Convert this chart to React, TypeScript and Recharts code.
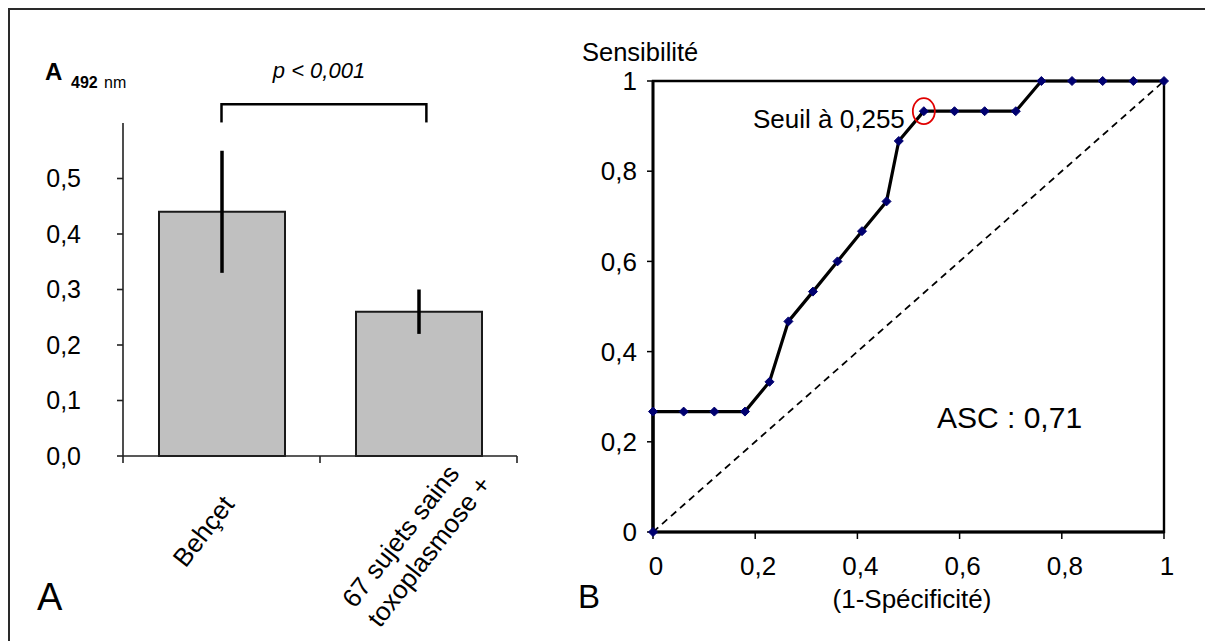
import React from 'react';
import {
  BarChart,
  Bar,
  XAxis,
  YAxis,
  ErrorBar,
  ReferenceLine,
  LineChart,
  Line,
  ReferenceArea,
  ReferenceDot,
} from 'recharts';

// ---------- data: panel A ----------
const groups = ['Behçet', '67 sujets sains\ntoxoplasmose +'];
const absorbance = [0.44, 0.26];
const absorbanceErr = [0.11, 0.04];
const absorbanceTicks = [0, 0.1, 0.2, 0.3, 0.4, 0.5];
const groupAxisTicks = [0, 0.5, 1, 1.5, 2];
const pValueLabel = 'p < 0,001';

// ---------- data: panel B (ROC) ----------
const fpr = [0, 0, 0.06, 0.12, 0.18, 0.228, 0.265, 0.313, 0.361, 0.409, 0.457, 0.481, 0.53, 0.59, 0.649, 0.71, 0.76, 0.82, 0.88, 0.94, 1];
const tpr = [0, 0.267, 0.267, 0.267, 0.267, 0.333, 0.467, 0.533, 0.6, 0.667, 0.733, 0.867, 0.933, 0.933, 0.933, 0.933, 1, 1, 1, 1, 1];
const rocTicks = [0, 0.2, 0.4, 0.6, 0.8, 1];
const thresholdFpr = 0.53;
const thresholdTpr = 0.933;
const thresholdLabel = 'Seuil à 0,255';
const aucLabel = 'ASC : 0,71';

const FONT = '"Liberation Sans", Arial, Helvetica, sans-serif';

const barData = groups.map((name, i) => ({ name, pos: i + 0.5, value: absorbance[i], err: absorbanceErr[i] }));
const rocData = fpr.map((x, i) => ({ fpr: x, tpr: tpr[i] }));

const commaFmt1 = (v: number) => v.toFixed(1).replace('.', ',');
const commaFmtRoc = (v: number) => (v === 0 || v === 1 ? String(v) : String(v).replace('.', ','));

const BarAxisTick = (props: any) => {
  const { x, y, payload } = props;
  const v = Number(payload.value);
  if (Number.isInteger(v)) {
    return <line x1={x} y1={y} x2={x} y2={y + 7} stroke="#222" strokeWidth={1.6} />;
  }
  const lines = groups[Math.floor(v)].split('\n');
  const multi = lines.length > 1;
  return (
    <g transform={`translate(${x},${y}) rotate(-52)`}>
      <text textAnchor={multi ? 'start' : 'end'} fontSize={26} fontFamily={FONT} fill="#000">
        {lines.map((l, i) => (
          <tspan key={i} x={multi ? -160 : -30} y={(multi ? 44 : 41) + i * 32}>
            {l}
          </tspan>
        ))}
      </text>
    </g>
  );
};

const Diamond = (p: any) => {
  const { cx, cy, index } = p;
  if (cx == null || cy == null) return <g key={index} />;
  const r = 4.5;
  return (
    <polygon
      key={index}
      points={`${cx},${cy - r} ${cx + r},${cy} ${cx},${cy + r} ${cx - r},${cy}`}
      fill="#000070"
      stroke="#000070"
      strokeWidth={1}
    />
  );
};

const ThresholdMark = (p: any) => {
  const { cx, cy } = p;
  return (
    <g>
      <ellipse cx={cx} cy={cy} rx={11} ry={13} fill="none" stroke="#e00000" strokeWidth={1.8} />
      <text x={cx - 19} y={cy + 17} textAnchor="end" fontSize={26} fontFamily={FONT} fill="#000">
        {thresholdLabel}
      </text>
    </g>
  );
};

export default function App() {
  return (
    <div style={{ position: 'relative', width: 1197, height: 633, overflow: 'hidden', background: '#fff' }}>
      <style>{'html,body{overflow:hidden;}'}</style>
      <div
        style={{
          position: 'absolute',
          left: 0,
          top: 0,
          width: 1300,
          height: 700,
          border: '2px solid #2a2a2a',
          boxSizing: 'border-box',
        }}
      />

      {/* Panel A */}
      <div style={{ position: 'absolute', left: 0, top: 0 }}>
        <BarChart
          width={560}
          height={633}
          data={barData}
          margin={{ top: 115, right: 51, left: 0, bottom: 35 }}
        >
          <XAxis
            dataKey="pos"
            type="number"
            domain={[0, 2]}
            ticks={groupAxisTicks}
            interval={0}
            allowDataOverflow
            tickLine={false}
            tickSize={0}
            tickMargin={0}
            height={150}
            axisLine={{ stroke: '#222', strokeWidth: 1.6 }}
            tick={<BarAxisTick />}
          />
          <YAxis
            domain={[0, 0.6]}
            ticks={absorbanceTicks}
            tickFormatter={commaFmt1}
            width={115}
            tickSize={6}
            tickMargin={36}
            axisLine={{ stroke: '#222', strokeWidth: 1.6 }}
            tickLine={{ stroke: '#222', strokeWidth: 1.6 }}
            tick={{ fontSize: 25, fill: '#000', fontFamily: FONT }}
          />
          <Bar dataKey="value" barSize={126} fill="#c0c0c0" stroke="#1a1a1a" strokeWidth={2} isAnimationActive={false}>
            <ErrorBar dataKey="err" width={0} stroke="#000" strokeWidth={3.5} direction="y" />
          </Bar>
          <ReferenceLine
            segment={[{ x: 0.5, y: 0.634 }, { x: 1.54, y: 0.634 }]}
            ifOverflow="visible"
            stroke="#000"
            strokeWidth={2.5}
          />
          <ReferenceLine
            segment={[{ x: 0.5, y: 0.601 }, { x: 0.5, y: 0.636 }]}
            ifOverflow="visible"
            stroke="#000"
            strokeWidth={2.5}
          />
          <ReferenceLine
            segment={[{ x: 1.54, y: 0.601 }, { x: 1.54, y: 0.636 }]}
            ifOverflow="visible"
            stroke="#000"
            strokeWidth={2.5}
          />
        </BarChart>
      </div>

      {/* Panel B */}
      <div style={{ position: 'absolute', left: 560, top: 0 }}>
        <LineChart width={640} height={633} data={rocData} margin={{ top: 73, right: 44, left: 0, bottom: 49 }}>
          <XAxis
            dataKey="fpr"
            type="number"
            domain={[0, 1]}
            ticks={rocTicks}
            tickFormatter={commaFmtRoc}
            height={60}
            tickSize={7}
            tickMargin={18}
            axisLine={{ stroke: '#000', strokeWidth: 2.8 }}
            tickLine={{ stroke: '#000', strokeWidth: 1.5 }}
            tick={{ fontSize: 26, fill: '#000', fontFamily: FONT, dx: 3 }}
          />
          <YAxis
            type="number"
            domain={[0, 1]}
            ticks={rocTicks}
            tickFormatter={commaFmtRoc}
            width={85}
            tickSize={6}
            tickMargin={10}
            axisLine={{ stroke: '#000', strokeWidth: 2.8 }}
            tickLine={{ stroke: '#000', strokeWidth: 1.5 }}
            tick={{ fontSize: 26, fill: '#000', fontFamily: FONT }}
          />
          <ReferenceArea x1={0} x2={1} y1={0} y2={1} fill="none" fillOpacity={0} stroke="#000" strokeWidth={2.4} />
          <ReferenceLine
            segment={[{ x: 0, y: 0 }, { x: 1, y: 1 }]}
            stroke="#000"
            strokeWidth={1.8}
            strokeDasharray="7 5"
          />
          <Line
            dataKey="tpr"
            type="linear"
            stroke="#000"
            strokeWidth={3.2}
            dot={Diamond}
            activeDot={false}
            isAnimationActive={false}
          />
          <ReferenceDot x={thresholdFpr} y={thresholdTpr} shape={ThresholdMark} />
        </LineChart>
      </div>

      {/* Text annotations */}
      <svg width={1205} height={633} style={{ position: 'absolute', left: 0, top: 0, pointerEvents: 'none' }}>
        <g transform="translate(-8,-8)" fontFamily={FONT} fill="#000">
          <text x={45} y={80} fontSize={24} fontWeight="bold">A</text>
          <text x={71} y={88} fontSize={16} fontWeight="bold">492</text>
          <text x={104} y={88} fontSize={16}>nm</text>
          <text x={319} y={78} fontSize={22} fontStyle="italic" textAnchor="middle">{pValueLabel}</text>
          <text x={37} y={610} fontSize={38}>A</text>
          <text x={582} y={61} fontSize={25.5}>Sensibilité</text>
          <text x={912} y={608} fontSize={26} textAnchor="middle">(1-Spécificité)</text>
          <text x={578} y={608} fontSize={33}>B</text>
          <text x={937} y={428} fontSize={30}>{aucLabel}</text>
        </g>
      </svg>
    </div>
  );
}
